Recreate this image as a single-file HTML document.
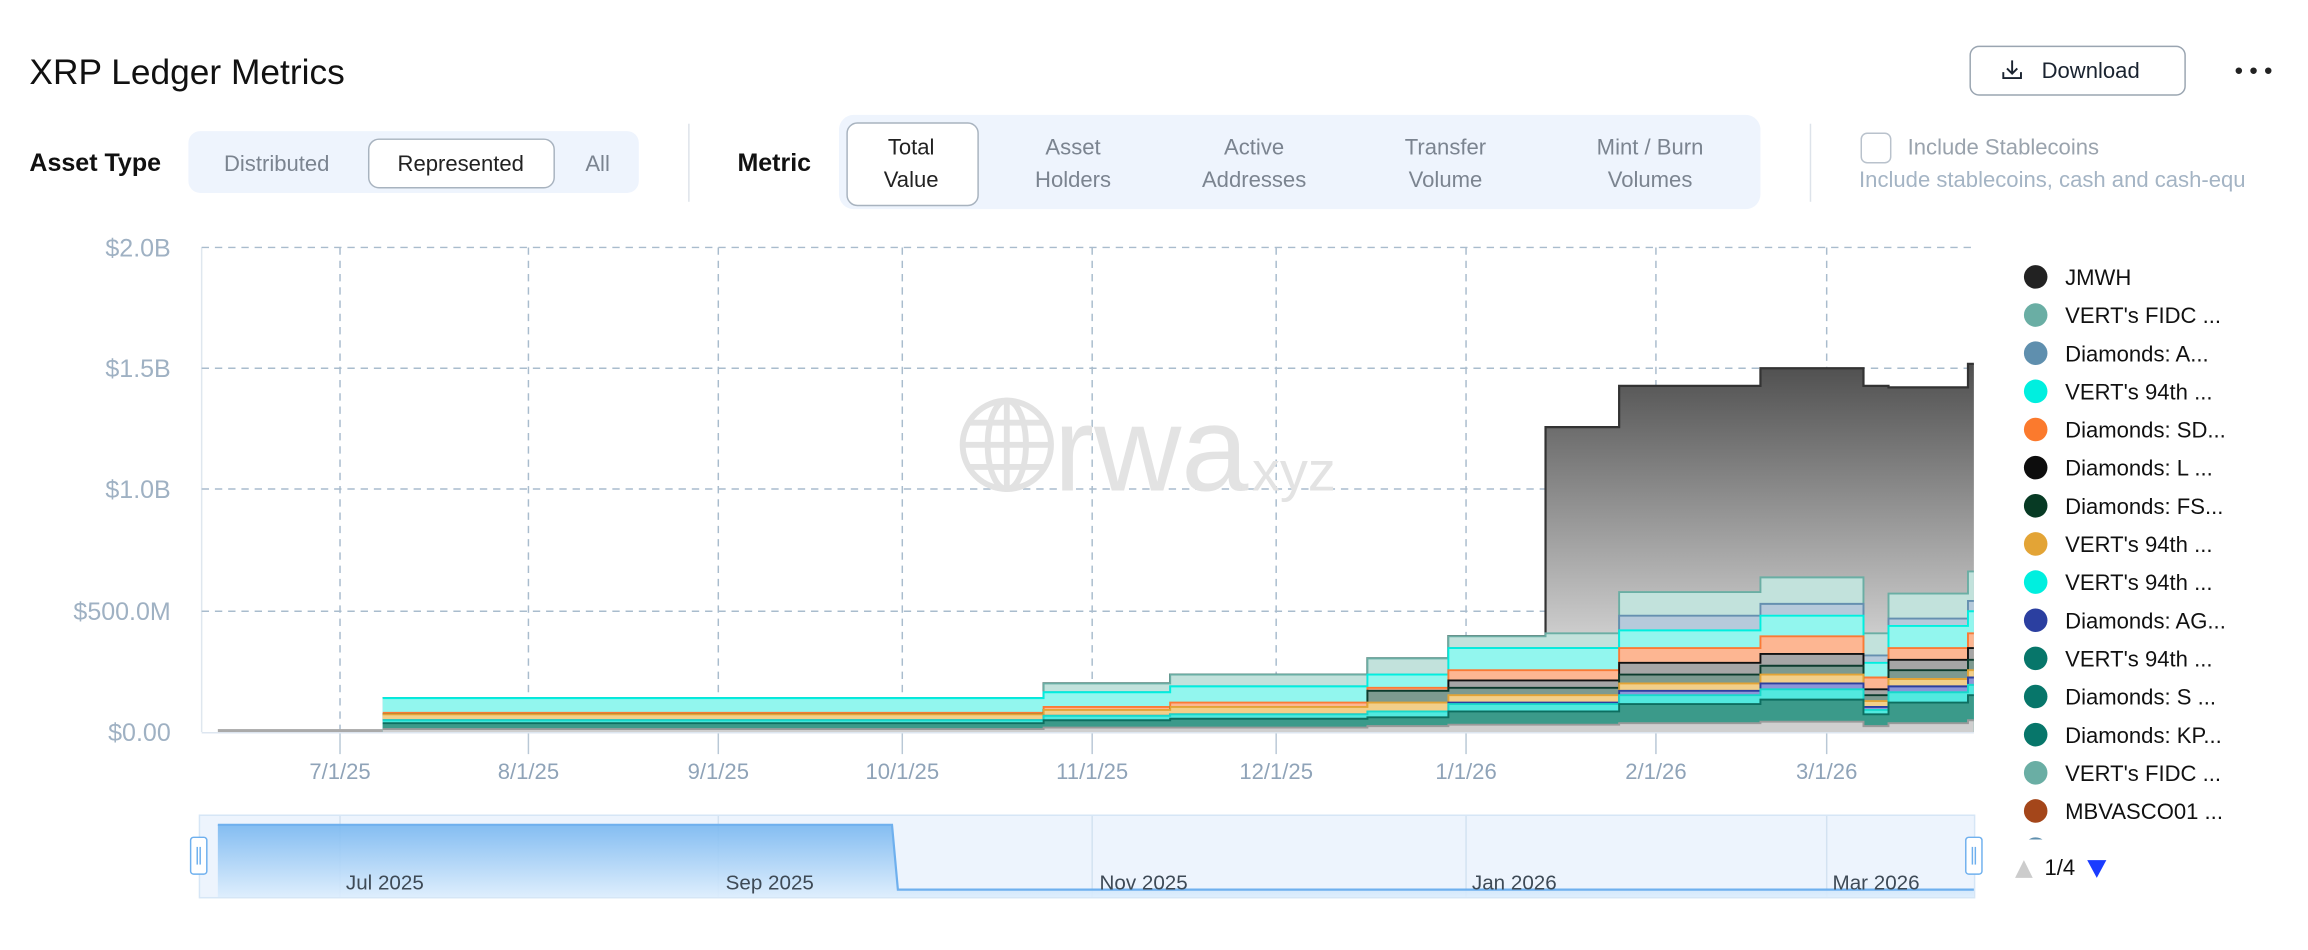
<!DOCTYPE html>
<html><head><meta charset="utf-8"><style>
html,body{margin:0;padding:0;background:#fff;width:2308px;height:950px;overflow:hidden}
svg{display:block}
text{font-family:"Liberation Sans",Arial,sans-serif}
</style></head><body>
<svg id="s" width="2308" height="950" viewBox="0 0 1568 645" preserveAspectRatio="none" xmlns="http://www.w3.org/2000/svg">
<defs>
<linearGradient id="jm" x1="0" y1="0" x2="0" y2="1"><stop offset="0" stop-color="#4f4f4f"/><stop offset="0.8" stop-color="#d8d8d8"/><stop offset="1" stop-color="#eeeeee"/></linearGradient>
<linearGradient id="nav" x1="0" y1="0" x2="0" y2="1"><stop offset="0" stop-color="#78b7f0"/><stop offset="1" stop-color="#dcedfd"/></linearGradient>
</defs>
<!-- header -->
<text x="20" y="57" font-size="24" font-weight="500" fill="#111">XRP Ledger Metrics</text>
<rect x="1338.5" y="31.5" width="146" height="33" rx="6" fill="#fff" stroke="#9aa5b1"/>
<g stroke="#1a2330" stroke-width="1.3" fill="none"><path d="M1367 41v9M1363.5 46.5l3.5 3.5 3.5-3.5M1361 49v4h12v-4"/></g>
<text x="1387" y="53" font-size="15" fill="#1a2330">Download</text>
<circle cx="1521" cy="48" r="2.2" fill="#222"/><circle cx="1531" cy="48" r="2.2" fill="#222"/><circle cx="1541" cy="48" r="2.2" fill="#222"/>
<text x="20" y="116" font-size="17" font-weight="bold" fill="#111">Asset Type</text>
<rect x="128" y="89" width="306" height="42" rx="8" fill="#eef4fd"/>
<rect x="250.5" y="94.5" width="126" height="33" rx="7" fill="#fff" stroke="#a8b3bf"/>
<text x="188" y="116" font-size="15" fill="#7b8490" text-anchor="middle">Distributed</text>
<text x="313" y="116" font-size="15" fill="#222" text-anchor="middle">Represented</text>
<text x="406" y="116" font-size="15" fill="#7b8490" text-anchor="middle">All</text>
<line x1="468" y1="84" x2="468" y2="137" stroke="#dde3ea"/>
<text x="501" y="116" font-size="17" font-weight="bold" fill="#111">Metric</text>
<rect x="570" y="78" width="626" height="64" rx="10" fill="#eef4fd"/>
<rect x="575.5" y="83.5" width="89" height="56" rx="7" fill="#fff" stroke="#a8b3bf"/>
<g font-size="15" text-anchor="middle" fill="#7b8490">
<text x="619" y="105" fill="#222">Total</text><text x="619" y="127" fill="#222">Value</text>
<text x="729" y="105">Asset</text><text x="729" y="127">Holders</text>
<text x="852" y="105">Active</text><text x="852" y="127">Addresses</text>
<text x="982" y="105">Transfer</text><text x="982" y="127">Volume</text>
<text x="1121" y="105">Mint / Burn</text><text x="1121" y="127">Volumes</text>
</g>
<line x1="1230" y1="84" x2="1230" y2="137" stroke="#dde3ea"/>
<rect x="1264.5" y="90.5" width="20" height="20" rx="4" fill="#fff" stroke="#b9c2cc"/>
<text x="1296" y="105" font-size="15" fill="#9aa3ad">Include Stablecoins</text>
<text x="1263" y="127" font-size="15" fill="#a4b4c4">Include stablecoins, cash and cash-equ</text>
<!-- grid -->
<g id="grid"></g>
<g id="wm" fill="none" stroke="#e2e2e2" stroke-width="4">
<circle cx="684" cy="302" r="30"/><ellipse cx="684" cy="302" rx="13" ry="30"/><line x1="654" y1="302" x2="714" y2="302"/><line x1="684" y1="272" x2="684" y2="332"/><path d="M659 287h50M659 317h50"/>
</g>
<text x="716" y="333" font-size="82" fill="#e3e3e3">rwa</text>
<text x="840" y="333" font-size="38" fill="#e3e3e3">.xyz</text>
<g id="areas"></g>
<g font-size="17" fill="#9fb1c3" text-anchor="end">
<text x="116" y="174">$2.0B</text><text x="116" y="256">$1.5B</text><text x="116" y="338">$1.0B</text><text x="116" y="421">$500.0M</text><text x="116" y="503">$0.00</text>
</g>
<g font-size="15" fill="#8fa3b8" text-anchor="middle">
<text x="231" y="529">7/1/25</text><text x="359" y="529">8/1/25</text><text x="488" y="529">9/1/25</text><text x="613" y="529">10/1/25</text><text x="742" y="529">11/1/25</text><text x="867" y="529">12/1/25</text><text x="996" y="529">1/1/26</text><text x="1125" y="529">2/1/26</text><text x="1241" y="529">3/1/26</text>
</g>
<!-- navigator -->
<rect x="135.5" y="553.5" width="1206" height="56" fill="#edf4fd" stroke="#d6e6f6"/>
<g stroke="#d3e2f1"><line x1="231" y1="554" x2="231" y2="609"/><line x1="488" y1="554" x2="488" y2="609"/><line x1="742" y1="554" x2="742" y2="609"/><line x1="996" y1="554" x2="996" y2="609"/><line x1="1241" y1="554" x2="1241" y2="609"/></g>
<path d="M148 609V560H606L610 604H1341V609Z" fill="url(#nav)" opacity="0.9"/>
<path d="M148 560H606L610 604H1341" fill="none" stroke="#6fb0ee" stroke-width="1.5"/>
<g font-size="14" fill="#3e4a56"><text x="235" y="604">Jul 2025</text><text x="493" y="604">Sep 2025</text><text x="747" y="604">Nov 2025</text><text x="1000" y="604">Jan 2026</text><text x="1245" y="604">Mar 2026</text></g>
<rect x="129.5" y="568.5" width="11" height="25" rx="2" fill="#fff" stroke="#6fb0ee"/>
<rect x="1335.5" y="568.5" width="11" height="25" rx="2" fill="#fff" stroke="#6fb0ee"/>
<g stroke="#6fb0ee"><line x1="134" y1="575" x2="134" y2="587"/><line x1="136" y1="575" x2="136" y2="587"/><line x1="1340" y1="575" x2="1340" y2="587"/><line x1="1342" y1="575" x2="1342" y2="587"/></g>
<!-- legend -->
<svg x="1370" y="170" width="198" height="400" viewBox="1370 170 198 400"><g id="leg" font-size="15" fill="#111"></g></svg>
<path d="M1369 596l6-12 6 12z" fill="#cccccc"/>
<text x="1389" y="594" font-size="15" fill="#111">1/4</text>
<path d="M1418 584h13l-6.5 12z" fill="#1a3bff"/>
</svg>
<script>
var NS="http://www.w3.org/2000/svg";
function el(p,t,a,txt){var e=document.createElementNS(NS,t);for(var k in a)e.setAttribute(k,a[k]);if(txt)e.textContent=txt;p.appendChild(e);return e;}
var g=document.getElementById('grid');
el(g,'line',{x1:137,y1:168,x2:137,y2:497,stroke:'#dfe7ef'});
[168,250,332,415].forEach(function(y){el(g,'line',{x1:137,y1:y,x2:1341,y2:y,stroke:'#a9bccd','stroke-dasharray':'5 4'});});
[231,359,488,613,742,867,996,1125,1241].forEach(function(x){el(g,'line',{x1:x,y1:168,x2:x,y2:497,stroke:'#a9bccd','stroke-dasharray':'5 4'});el(g,'line',{x1:x,y1:497,x2:x,y2:512,stroke:'#b9c8d6'});});
el(g,'line',{x1:137,y1:497.5,x2:1341,y2:497.5,stroke:'#dde6f0'});
var segs=[
[260,709,[495,491,489,489,485,485,485,484,474,474,474,474]],
[709,795,[494,489,486,486,482,482,482,480,470,470,464,464]],
[795,929,[494,488,485,485,480,480,480,477,466,466,458,458]],
[929,984,[493,487,483,483,477,469,469,467,458,458,447,447]],
[984,1050,[492,483,478,477,472,467,462,455,440,440,432,432]],
[1050,1100,[492,483,478,477,472,467,462,455,440,440,430,290]],
[1100,1196,[491,478,472,469,464,458,450,440,428,418,402,262]],
[1196,1266,[490,475,468,464,458,452,444,432,418,410,392,250]],
[1266,1283,[493,485,482,480,476,472,468,460,450,445,430,262]],
[1283,1337,[491,477,470,466,461,455,448,440,425,420,403,263]],
[1337,1341,[489,472,465,460,455,448,440,430,415,408,388,247]]];
var cols=[['#cfcfcf','#9a9a9a'],['#3b9a8a','#0d6e60'],['#52e9df','#16d9cc'],['#8d95d8','#2b3fa0'],['#f2cf8a','#e3a436'],['#7d9a90','#0c3b2d'],['#a6a6a6','#111'],['#fdb692','#fb7a35'],['#92f6ee','#00efdf'],['#b6cadb','#6590b0'],['#c2e2dc','#6aaea4'],['url(#jm)','#333']];
var a=document.getElementById('areas');
el(a,'rect',{x:148,y:495,width:112,height:2,fill:'#aaa'});
for(var L=11;L>=0;L--){
 var d='M'+segs[0][0]+' 497';
 var line='';
 segs.forEach(function(s,i){var y=s[2][L];d+='L'+s[0]+' '+y+'L'+s[1]+' '+y;line+=(i?'L':'M')+s[0]+' '+y+'L'+s[1]+' '+y;});
 d+='L1341 497Z';
 el(a,'path',{d:d,fill:cols[L][0]});
 el(a,'path',{d:line,fill:'none',stroke:cols[L][1],'stroke-width':L==11?1.5:1.3});
}
var leg=[['JMWH','#222'],["VERT's FIDC ...",'#6aaea4'],['Diamonds: A...','#5f8fae'],["VERT's 94th ...",'#00efdf'],['Diamonds: SD...','#fb7a2d'],['Diamonds: L ...','#0d0d0d'],['Diamonds: FS...','#073a24'],["VERT's 94th ...",'#e3a436'],["VERT's 94th ...",'#00efdf'],['Diamonds: AG...','#2b3fa0'],["VERT's 94th ...",'#07766a'],['Diamonds: S ...','#07766a'],['Diamonds: KP...','#07766a'],["VERT's FIDC ...",'#6aaea4'],['MBVASCO01 ...','#a4461a'],["VERT's 94th ...",'#5f8fae']];
var lg=document.getElementById('leg');
leg.forEach(function(it,i){var y=188+i*25.9;el(lg,'circle',{cx:1383,cy:y,r:8,fill:it[1]});el(lg,'text',{x:1403,y:y+5.5},it[0]);});
</script>
</body></html>
